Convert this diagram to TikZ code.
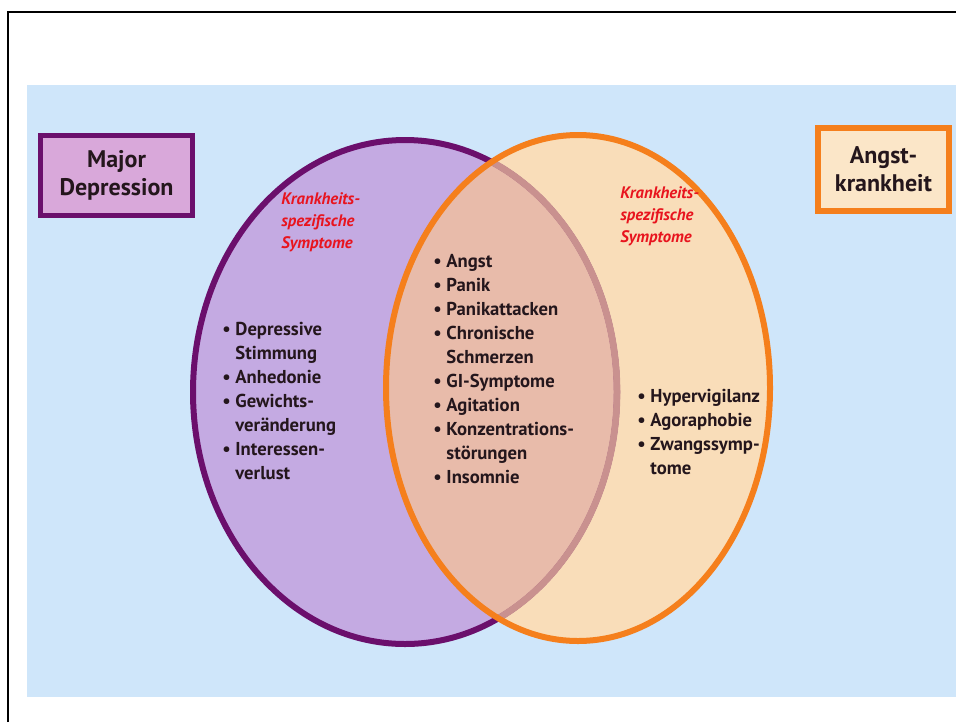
\documentclass[tikz,border=0pt]{standalone}
\usepackage{fontspec}
\setmainfont{PT Sans}
\usetikzlibrary{positioning}

\definecolor{bgblue}{HTML}{CFE6FA}
\definecolor{depfill}{HTML}{C4AAE2}
\definecolor{depline}{HTML}{6B0F6C}
\definecolor{deplabel}{HTML}{D9A8DA}
\definecolor{angstfill}{HTML}{F9DDB9}
\definecolor{angstline}{HTML}{F57F1C}
\definecolor{angstlabel}{HTML}{FBE6C8}
\definecolor{bothfill}{HTML}{E8BBAA}
\definecolor{fadeline}{HTML}{C9918F}
\definecolor{headred}{HTML}{E8141E}
\definecolor{listtext}{HTML}{24161C}

\newcommand{\bul}{\textbullet\ }
\newcommand{\ind}{\hphantom{\textbullet\ }}

\tikzset{
  labelbox/.style={rectangle, draw, align=center, inner sep=0pt, text=listtext,
    font=\fontsize{18}{21}\selectfont\bfseries},
  symhead/.style={anchor=north west, align=left, inner sep=0pt, text=headred,
    font=\fontsize{12.5}{16.8}\selectfont\bfseries\itshape},
  symlist/.style={anchor=north west, align=left, inner sep=0pt, text=listtext,
    font=\fontsize{14}{18}\selectfont\bfseries},
}

\begin{document}
\begin{tikzpicture}[x=0.75pt, y=-0.75pt]
        \useasboundingbox (0,0) rectangle (956,722);
        \fill[white] (0,0) rectangle (956,722);
        \draw[line width=1.5pt] (8,722) -- (8,12) -- (956,12);
        \fill[bgblue] (27,85) rectangle (956,697);

        % the two sets
        \fill[depfill] (405,392) ellipse [x radius=212, y radius=252];
        \fill[angstfill] (578,388) ellipse [x radius=192, y radius=253];
        \begin{scope}
          \clip (405,392) ellipse [x radius=212, y radius=252];
          \fill[bothfill] (578,388) ellipse [x radius=192, y radius=253];
        \end{scope}
        \draw[depline, line width=4.5pt] (405,392) ellipse [x radius=212, y radius=252];
        \begin{scope}
          \clip (578,388) ellipse [x radius=192, y radius=253];
          \draw[fadeline, line width=5pt] (405,392) ellipse [x radius=212, y radius=252];
        \end{scope}
        \draw[angstline, line width=4.5pt] (578,388) ellipse [x radius=192, y radius=253];

        \node[labelbox, draw=depline, fill=deplabel, line width=3.75pt,
          minimum width=114pt, minimum height=60pt] (depBox) at (116.5,175.5) {Major\\Depression};
        \node[labelbox, draw=angstline, fill=angstlabel, line width=4.5pt,
          minimum width=98pt, minimum height=62pt] (angstBox) at (883.5,169.5) {Angst-\\krankheit};

        \node[symhead] (depHead) at (281,192) {Krankheits-\\spezifische\\Symptome};
        \node[symhead] (angstHead) at (620,186) {Krankheits-\\spezifische\\Symptome};

        \node[symlist] (depList) at (222,322) {\bul Depressive\\\ind Stimmung\\\bul Anhedonie\\
          \bul Gewichts-\\\ind veränderung\\\bul Interessen-\\\ind verlust};
        \node[symlist] (bothList) at (433,254) {\bul Angst\\\bul Panik\\\bul Panikattacken\\
          \bul Chronische\\\ind Schmerzen\\\bul GI-Symptome\\\bul Agitation\\
          \bul Konzentrations-\\\ind störungen\\\bul Insomnie};
        \node[symlist] (angstList) at (637,389) {\bul Hypervigilanz\\\bul Agoraphobie\\
          \bul Zwangssymp-\\\ind tome};
      \end{tikzpicture}
\end{document}
